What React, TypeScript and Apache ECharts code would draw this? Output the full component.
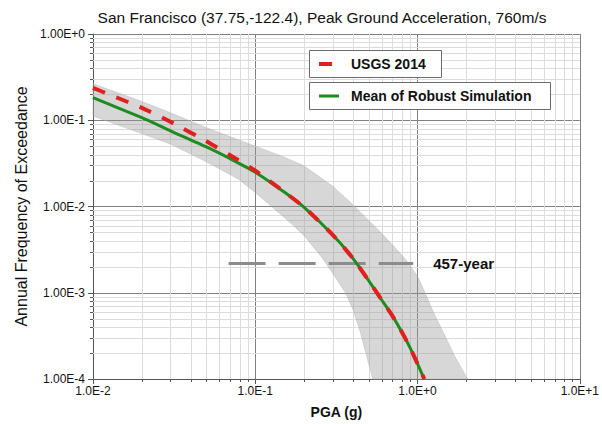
import React, { useEffect, useRef } from "react";
import * as echarts from "echarts";

// ---- axis ranges ----
const xMin = 0.01;
const xMax = 10;
const yMin = 1e-4;
const yMax = 1;

// ---- hazard curves (PGA in g, annual frequency of exceedance) ----
const pga = [0.01, 0.02, 0.03, 0.05, 0.07, 0.1, 0.15, 0.2, 0.3, 0.4, 0.5, 0.6, 0.7, 0.8, 0.9, 1.0, 1.1];
const meanSim = [0.183, 0.107, 0.0755, 0.049, 0.0358, 0.025, 0.0148, 0.0098, 0.0047, 0.0025, 0.00138, 0.00083, 0.00054, 0.00035, 0.00023, 0.00015, 0.0001];
const usgs2014 = [0.237, 0.139, 0.096, 0.057, 0.0393, 0.026, 0.0149, 0.0098, 0.0047, 0.0025, 0.00138, 0.00083, 0.00054, 0.00035, 0.00023, 0.00015, 0.0001];

// ---- envelope of the robust simulation curves ----
const simUpperX = [0.01, 0.02, 0.03, 0.05, 0.1, 0.15, 0.2, 0.3, 0.4, 0.5, 0.6, 0.7, 0.85, 1.0, 1.1, 1.27, 1.46, 1.68, 2.03];
const simUpperY = [0.265, 0.165, 0.122, 0.082, 0.05, 0.0375, 0.0295, 0.0172, 0.0105, 0.0069, 0.0049, 0.0036, 0.0024, 0.00155, 0.00105, 0.00056, 0.00033, 0.00019, 0.0001];
const simLowerX = [0.01, 0.02, 0.03, 0.05, 0.078, 0.1, 0.124, 0.16, 0.2, 0.26, 0.3, 0.36, 0.4, 0.44, 0.48, 0.53];
const simLowerY = [0.112, 0.07, 0.053, 0.033, 0.021, 0.0145, 0.0103, 0.0068, 0.0046, 0.0025, 0.00168, 0.001, 0.00064, 0.00037, 0.0002, 0.0001];

// ---- 457-year return period reference ----
const returnPeriodYears = 457;
const returnLineX = [0.0685, 0.94];

// ---- minor grid values ----
const xMinor = [0.02, 0.03, 0.04, 0.05, 0.06, 0.07, 0.08, 0.09, 0.2, 0.3, 0.4, 0.5, 0.6, 0.7, 0.8, 0.9, 2, 3, 4, 5, 6, 7, 8, 9];
const yMinor = [
  2e-4, 3e-4, 4e-4, 5e-4, 6e-4, 7e-4, 8e-4, 9e-4,
  2e-3, 3e-3, 4e-3, 5e-3, 6e-3, 7e-3, 8e-3, 9e-3,
  2e-2, 3e-2, 4e-2, 5e-2, 6e-2, 7e-2, 8e-2, 9e-2,
  0.2, 0.3, 0.4, 0.5, 0.6, 0.7, 0.8, 0.9,
];

const FONT = "Liberation Sans, Arial, Helvetica, sans-serif";
const AXIS_COLOR = "#555555";
const MAJOR_GRID = "#808080";
const MINOR_GRID = "#dcdcdc";

function expLabel(v: number, mant: string) {
  const e = Math.round(Math.log10(v));
  return `${mant}E${e >= 0 ? "+" : "-"}${Math.abs(e)}`;
}

const px = (v: number) => Math.round(v) + 0.5;

export default function App() {
  const ref = useRef<HTMLDivElement>(null);

  useEffect(() => {
    if (!ref.current) return;
    const chart = echarts.init(ref.current, undefined, { renderer: "svg" });

    const option: any = {
      animation: false,
      backgroundColor: "#ffffff",
      textStyle: { fontFamily: FONT },
      grid: { left: 93, right: 14, top: 34, bottom: 42, containLabel: false },
      xAxis: {
        type: "log",
        logBase: 10,
        min: xMin,
        max: xMax,
        name: "PGA (g)",
        nameLocation: "middle",
        nameGap: 26,
        nameTextStyle: { fontFamily: FONT, fontSize: 14, fontWeight: "bold", color: "#111" },
        axisLine: { show: true, lineStyle: { color: AXIS_COLOR, width: 1 } },
        axisTick: { show: true, length: 5, lineStyle: { color: AXIS_COLOR } },
        axisLabel: {
          fontFamily: FONT,
          fontSize: 12,
          color: "#111",
          margin: 6,
          formatter: (v: number) => expLabel(v, "1.0"),
        },
        splitLine: { show: true, lineStyle: { color: MAJOR_GRID, width: 1 } },
      },
      yAxis: {
        type: "log",
        logBase: 10,
        min: yMin,
        max: yMax,
        name: "Annual Frequency of Exceedance",
        nameLocation: "middle",
        nameRotate: 90,
        nameGap: 50,
        nameTextStyle: { fontFamily: FONT, fontSize: 16, color: "#111" },
        axisLine: { show: true, lineStyle: { color: AXIS_COLOR, width: 1 } },
        axisTick: { show: true, length: 5, lineStyle: { color: AXIS_COLOR } },
        axisLabel: {
          fontFamily: FONT,
          fontSize: 12,
          color: "#111",
          margin: 8,
          formatter: (v: number) => expLabel(v, "1.00"),
        },
        splitLine: { show: true, lineStyle: { color: MAJOR_GRID, width: 1 } },
      },
      graphic: [
        {
          type: "text",
          z: 100,
          x: 322,
          y: 17,
          style: {
            text: "San Francisco (37.75,-122.4), Peak Ground Acceleration, 760m/s",
            fontFamily: FONT,
            fontSize: 15.5,
            fill: "#111",
            textAlign: "center",
            textVerticalAlign: "middle",
          },
        },
        {
          type: "group",
          z: 100,
          children: [
            { type: "rect", z: 100, shape: { x: 309.5, y: 50.5, width: 132, height: 27 }, style: { fill: "#fff", stroke: "#6a6a6a", lineWidth: 1 } },
            { type: "line", z: 101, shape: { x1: 319, y1: 64, x2: 332, y2: 64 }, style: { stroke: "#e0201e", lineWidth: 4 } },
            { type: "text", z: 101, x: 351, y: 64, style: { text: "USGS 2014", fontFamily: FONT, fontSize: 14, fontWeight: "bold", fill: "#111", textVerticalAlign: "middle" } },
            { type: "rect", z: 100, shape: { x: 309.5, y: 82.5, width: 241, height: 27 }, style: { fill: "#fff", stroke: "#6a6a6a", lineWidth: 1 } },
            { type: "line", z: 101, shape: { x1: 319, y1: 96, x2: 339, y2: 96 }, style: { stroke: "#1e8c1e", lineWidth: 3 } },
            { type: "text", z: 101, x: 351, y: 96, style: { text: "Mean of Robust Simulation", fontFamily: FONT, fontSize: 14, fontWeight: "bold", fill: "#111", textVerticalAlign: "middle" } },
          ],
        },
      ],
      series: [
        {
          name: "minor-x",
          type: "custom",
          silent: true,
          clip: false,
          z: 1,
          data: xMinor.map((v) => [v, yMin]),
          renderItem: (params: any, api: any) => {
            const v = api.value(0);
            const top = api.coord([v, yMax]);
            const bot = api.coord([v, yMin]);
            const x = px(top[0]);
            return {
              type: "group",
              children: [
                { type: "line", shape: { x1: x, y1: top[1], x2: x, y2: bot[1] }, style: { stroke: MINOR_GRID, lineWidth: 1 } },
                { type: "line", shape: { x1: x, y1: bot[1], x2: x, y2: bot[1] + 3 }, style: { stroke: AXIS_COLOR, lineWidth: 1 } },
              ],
            };
          },
        },
        {
          name: "minor-y",
          type: "custom",
          silent: true,
          clip: false,
          z: 1,
          data: yMinor.map((v) => [xMin, v]),
          renderItem: (params: any, api: any) => {
            const v = api.value(1);
            const l = api.coord([xMin, v]);
            const r = api.coord([xMax, v]);
            const y = px(l[1]);
            return {
              type: "group",
              children: [
                { type: "line", shape: { x1: l[0], y1: y, x2: r[0], y2: y }, style: { stroke: MINOR_GRID, lineWidth: 1 } },
                { type: "line", shape: { x1: l[0] - 3, y1: y, x2: l[0], y2: y }, style: { stroke: AXIS_COLOR, lineWidth: 1 } },
              ],
            };
          },
        },
        {
          name: "Robust Simulations",
          type: "custom",
          silent: true,
          z: 2,
          data: [[0.1, 0.01]],
          renderItem: (params: any, api: any) => {
            const pts: number[][] = [];
            simUpperX.forEach((x, i) => pts.push(api.coord([x, simUpperY[i]])));
            for (let i = simLowerX.length - 1; i >= 0; i--) pts.push(api.coord([simLowerX[i], simLowerY[i]]));
            return {
              type: "polygon",
              shape: { points: pts },
              style: { fill: "rgba(150,150,150,0.38)", stroke: "rgba(180,180,180,0.45)", lineWidth: 1 },
            };
          },
        },
        {
          name: `${returnPeriodYears}-year`,
          type: "line",
          z: 3,
          symbol: "none",
          silent: true,
          data: returnLineX.map((x) => [x, 1 / returnPeriodYears]),
          lineStyle: { color: "#8c8c8c", width: 3, type: [37, 13] },
          endLabel: {
            show: true,
            formatter: `${returnPeriodYears}-year`,
            distance: 20,
            fontFamily: FONT,
            fontSize: 15,
            fontWeight: "bold",
            color: "#111",
          },
        },
        {
          name: "Mean of Robust Simulation",
          type: "line",
          z: 4,
          symbol: "none",
          smooth: 0.2,
          silent: true,
          data: pga.map((x, i) => [x, meanSim[i]]),
          lineStyle: { color: "#1e8c1e", width: 3 },
        },
        {
          name: "USGS 2014",
          type: "line",
          z: 5,
          symbol: "none",
          smooth: 0.2,
          silent: true,
          data: pga.map((x, i) => [x, usgs2014[i]]),
          lineStyle: { color: "#e0201e", width: 4, type: [13, 12] },
        },
      ],
    };

    chart.setOption(option);
    return () => chart.dispose();
  }, []);

  return (
    <div
      ref={ref}
      style={{ position: "fixed", left: 0, top: 0, width: 602, height: 424, background: "#fff" }}
    />
  );
}
